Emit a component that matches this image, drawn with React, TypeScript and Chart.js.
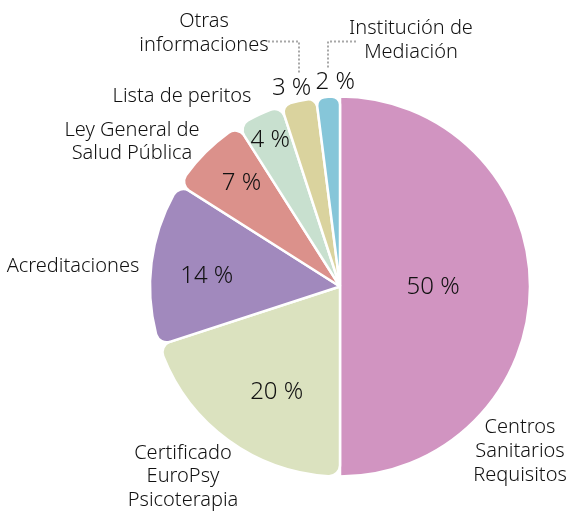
import React, { useEffect, useRef } from "react";
import { Chart, registerables } from "chart.js";

Chart.register(...registerables);

// ---- data ----
const categories = [
  "Centros Sanitarios Requisitos",
  "Certificado EuroPsy Psicoterapia",
  "Acreditaciones",
  "Ley General de Salud Pública",
  "Lista de peritos",
  "Otras informaciones",
  "Institución de Mediación",
];
const categoryLines = [
  ["Centros", "Sanitarios", "Requisitos"],
  ["Certificado", "EuroPsy", "Psicoterapia"],
  ["Acreditaciones"],
  ["Ley General de", "Salud Pública"],
  ["Lista de peritos"],
  ["Otras", "informaciones"],
  ["Institución de", "Mediación"],
];
const values = [50, 20, 14, 7, 4, 3, 2];
const valueLabels = ["50 %", "20 %", "14 %", "7 %", "4 %", "3 %", "2 %"];

// ---- styles / layout ----
const colors = ["#d194c1", "#dbe2bf", "#a189bd", "#db918b", "#c8e0cf", "#dad39e", "#86c6d9"];
const cornerRadius = [0, 11, 11, 11, 11, 9, 8];
const pctRadiusFactor = [0.49, 0.641, 0.704, 0.758, 0.863, 1.083, 1.085];
const pctAngleShiftDeg = [-0.9, -4.7, -2, 1.8, 0, -1, 2.3];
// category label: x offset from pie centre, baseline y offset of first line, line step
const catLayout = [
  { dx: 180, dy: 146, step: 24 },
  { dx: -157, dy: 172, step: 23.5 },
  { dx: -267, dy: -15, step: 24 },
  { dx: -208, dy: -151, step: 23 },
  { dx: -158, dy: -185, step: 24 },
  { dx: -136, dy: -260, step: 24 },
  { dx: 71, dy: -253, step: 24 },
];
// dotted leader lines, offsets from pie centre
const leaderLines = [
  [[-72, -245], [-41, -245], [-41, -214]],
  [[16, -245], [-12, -245], [-12, -219]],
];

const FONT = "'Noto Sans', sans-serif";

const labelPlugin = {
  id: "pieLabels",
  afterDatasetsDraw(chart: any) {
    const ctx = chart.ctx;
    const meta = chart.getDatasetMeta(0);
    const arcs = meta.data;
    if (!arcs.length) return;
    const first = arcs[0].getProps(["x", "y"], true);
    const cx = first.x;
    const cy = first.y;
    ctx.save();
    ctx.fillStyle = "#111111";
    ctx.textAlign = "center";
    ctx.textBaseline = "alphabetic";
    // percentage labels
    ctx.font = `300 24px ${FONT}`;
    arcs.forEach((arc: any, i: number) => {
      const p = arc.getProps(["x", "y", "startAngle", "endAngle", "outerRadius"], true);
      const mid = (p.startAngle + p.endAngle) / 2 + (pctAngleShiftDeg[i] * Math.PI) / 180;
      const r = p.outerRadius * pctRadiusFactor[i];
      const x = p.x + Math.cos(mid) * r;
      const y = p.y + Math.sin(mid) * r;
      ctx.fillText(valueLabels[i], x, y + 8.5);
    });
    // category labels
    ctx.font = `300 20px ${FONT}`;
    categoryLines.forEach((lines, i) => {
      const l = catLayout[i];
      lines.forEach((line, j) => {
        ctx.fillText(line, cx + l.dx, cy + l.dy + j * l.step);
      });
    });
    // leader lines
    ctx.strokeStyle = "#a8a8a8";
    ctx.lineWidth = 2;
    ctx.setLineDash([2, 2]);
    leaderLines.forEach((pts) => {
      ctx.beginPath();
      pts.forEach((pt, k) => {
        if (k === 0) ctx.moveTo(cx + pt[0], cy + pt[1]);
        else ctx.lineTo(cx + pt[0], cy + pt[1]);
      });
      ctx.stroke();
    });
    ctx.restore();
  },
};

export default function App() {
  const ref = useRef<HTMLCanvasElement | null>(null);
  useEffect(() => {
    document.body.style.margin = "0";
    if (!ref.current) return;
    const chart = new Chart(ref.current, {
      type: "pie",
      data: {
        labels: categories,
        datasets: [
          {
            data: values,
            backgroundColor: colors,
            borderColor: "#ffffff",
            borderWidth: 2.5,
            borderRadius: cornerRadius.map((c) => ({
              outerStart: c,
              outerEnd: c,
              innerStart: 0,
              innerEnd: 0,
            })),
          },
        ],
      },
      options: {
        animation: false,
        responsive: false,
        radius: 190,
        layout: { padding: { left: 151, right: 38, top: 97, bottom: 35 } },
        plugins: {
          legend: { display: false },
          tooltip: { enabled: false },
        },
      },
      plugins: [labelPlugin],
    });
    return () => chart.destroy();
  }, []);
  return (
    <div style={{ width: 567, height: 511 }}>
      <canvas ref={ref} width={567} height={511} style={{ display: "block" }} />
    </div>
  );
}
